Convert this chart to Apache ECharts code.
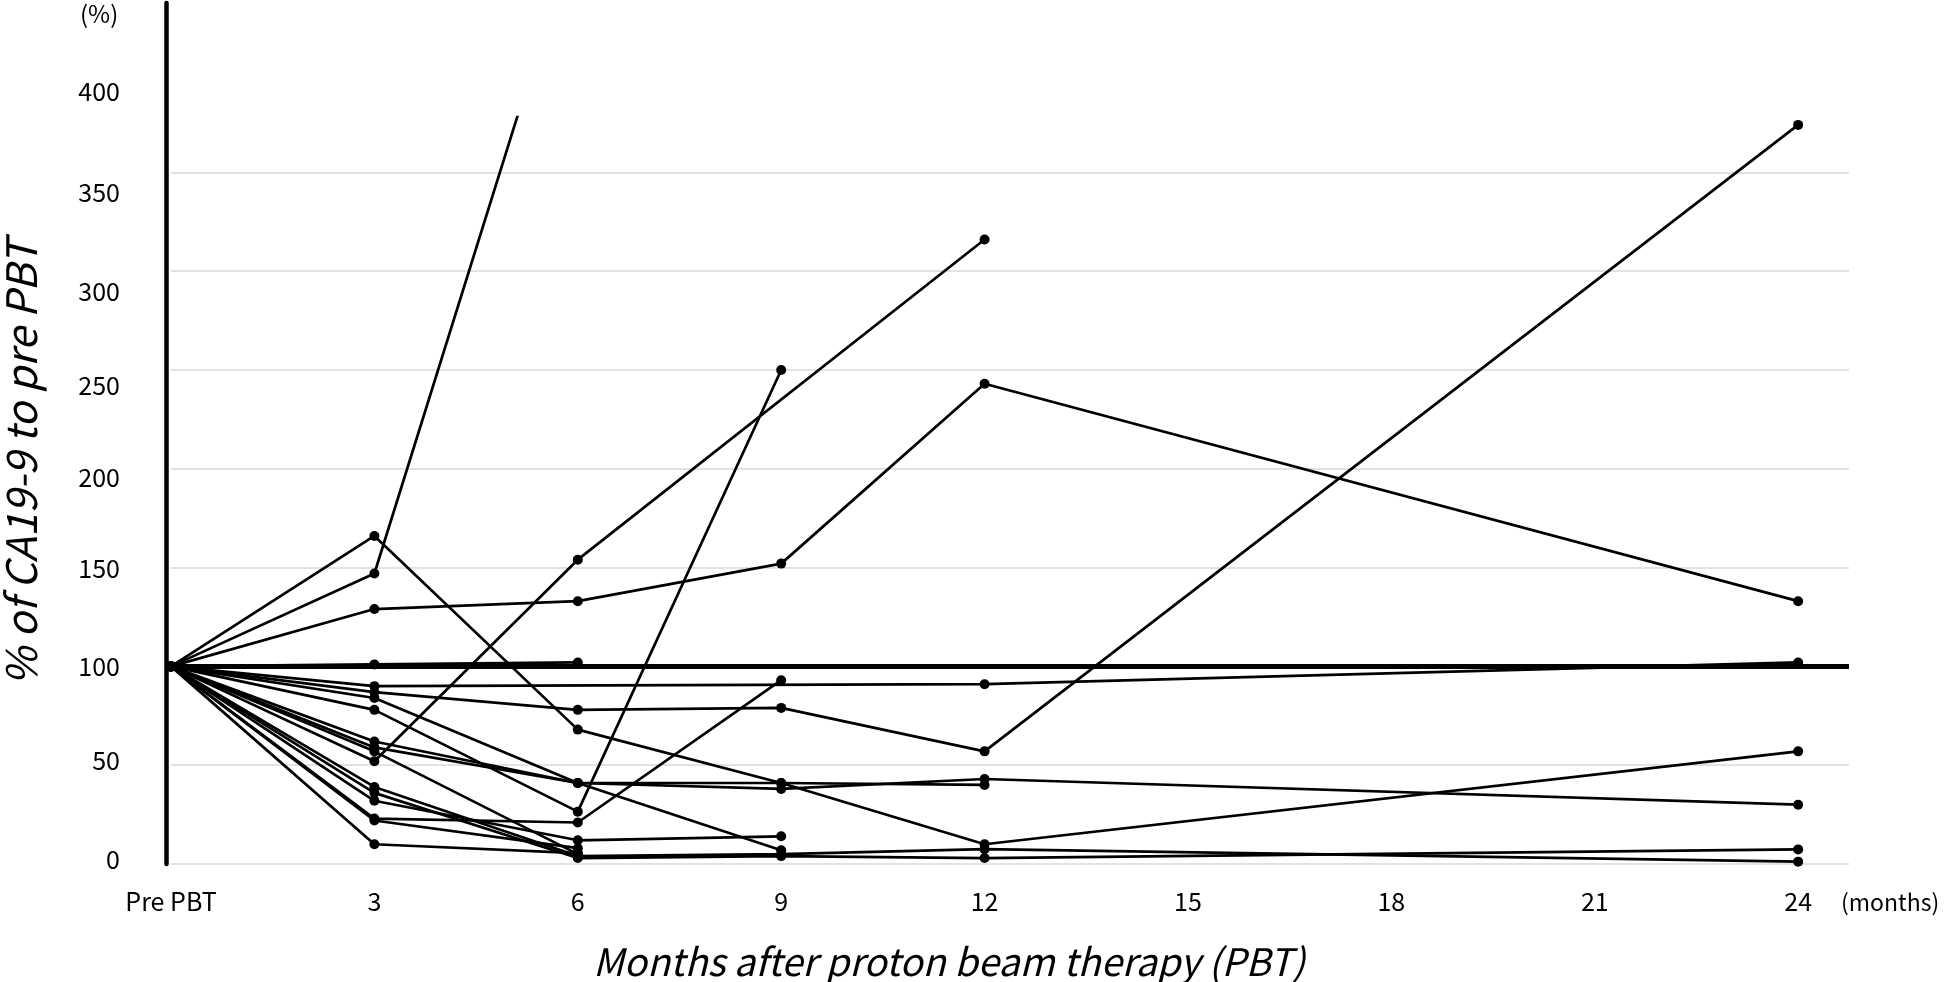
<!DOCTYPE html>
<html>
<head>
<meta charset="utf-8">
<script src="https://cdn.jsdelivr.net/npm/echarts@6/dist/echarts.min.js"></script>
<style>
html,body{margin:0;padding:0;background:#fff;}
#chart{width:1946px;height:982px;}
</style>
</head>
<body>
<div id="chart"></div>
<script>
// ---------- data ----------
const months = [0, 3, 6, 9, 12, 24];
const tickMonths = [0, 3, 6, 9, 12, 15, 18, 21, 24];
const tickLabels = ['Pre PBT', '3', '6', '9', '12', '15', '18', '21', '24'];
const yTicks = [0, 50, 100, 150, 200, 250, 300, 350, 400];

// % of CA19-9 relative to pre PBT, per patient (null = not measured)
const p01 = [100, 166, 68, 41, 10, 57];
const p02 = [100, 52, 154, null, 316, null];
const p03 = [100, 147, 476, null, null, null];
const p04 = [100, 129, 133, 152, 243, 133];
const p05 = [100, 78, 26.5, 250, null, null];
const p06 = [100, 101, 102, null, null, null];
const p07 = [100, 90, null, null, 91, 102];
const p08 = [100, 87, 78, 79, 57, 374];
const p09 = [100, 23, 21, 93, null, null];
const p10 = [100, 84, 41, 38, 43, 30];
const p11 = [100, 59, 41, 41, 40, null];
const p12 = [100, 62, 41, 7, null, null];
const p13 = [100, 32, 12, 14, null, null];
const p14 = [100, 39, 4, 5, 7.5, 1.2];
const p15 = [100, 36, 3, 4, 3, 7.4];
const p16 = [100, 57, 5, null, null, null];
const p17 = [100, 22, 8, null, null, null];
const p18 = [100, 10, 5.5, null, null, null];
const patients = [p01, p02, p03, p04, p05, p06, p07, p08, p09, p10, p11, p12, p13, p14, p15, p16, p17, p18];
const referenceLevel = 100;

// ---------- style ----------
const FONT = '"Noto Sans CJK JP", "Noto Sans", sans-serif';
const yLabelShift = {0: -5, 50: -5, 100: 0, 150: 1, 200: 9, 250: 16, 300: 20, 350: 20, 400: 17};
const rich = {};
yTicks.forEach(v => {
  const s = yLabelShift[v] || 0;
  rich['s' + v] = {
    fontSize: 25, color: '#000', fontFamily: FONT,
    padding: s >= 0 ? [2 * s, 0, 0, 0] : [0, 0, -2 * s, 0]
  };
});
function yLabel(v) {
  return yTicks.indexOf(v) >= 0 ? '{s' + v + '|' + v + '}' : '';
}

const gridCommon = {left: 171, right: 97, bottom: 118, containLabel: false};

const series = patients.map((arr, i) => {
  const data = [];
  arr.forEach((v, k) => { if (v !== null && v !== undefined) data.push([months[k], v]); });
  const s = {
    type: 'line', xAxisIndex: 0, yAxisIndex: 0, data: data,
    symbol: 'circle', symbolSize: 10, showSymbol: true,
    lineStyle: {color: '#000', width: 2.7},
    itemStyle: {color: '#000'},
    clip: true, silent: true, z: 3
  };
  if (i === 0) {
    s.markLine = {
      silent: true, symbol: ['none', 'none'], label: {show: false},
      lineStyle: {color: '#000', width: 5, type: 'solid'},
      data: [{yAxis: referenceLevel}]
    };
  }
  return s;
});

const option = {
  animation: false,
  backgroundColor: '#fff',
  grid: [
    Object.assign({top: 117}, gridCommon),
    Object.assign({top: 3}, gridCommon)
  ],
  xAxis: [
    {
      type: 'value', gridIndex: 0, min: 0, max: 24.75, interval: 3,
      axisLine: {show: false}, axisTick: {show: false}, splitLine: {show: false},
      axisLabel: {
        show: true, margin: 25, fontSize: 25, color: '#000', fontFamily: FONT,
        showMaxLabel: false,
        formatter: v => { const k = tickMonths.indexOf(v); return k >= 0 ? tickLabels[k] : ''; }
      }
    },
    {
      type: 'value', gridIndex: 1, min: 0, max: 24.75, show: false
    }
  ],
  yAxis: [
    {
      type: 'value', gridIndex: 0, min: 0, max: 378, interval: 50, offset: 5,
      axisLine: {show: false}, axisTick: {show: false},
      splitLine: {show: true, lineStyle: {color: ['#d9d9d9','#d9d9d9','#d9d9d9','#d9d9d9','#d9d9d9','#d9d9d9','#d9d9d9','#d9d9d9','rgba(0,0,0,0)'], width: 1.5}},
      axisLabel: {margin: 46, fontSize: 25, color: '#000', fontFamily: FONT, showMaxLabel: false, formatter: yLabel, rich: rich}
    },
    {
      type: 'value', gridIndex: 1, min: 0, max: 436, interval: 50, offset: 5,
      axisLine: {show: true, onZero: false, lineStyle: {color: '#000', width: 4.5}},
      axisTick: {show: false}, splitLine: {show: false},
      axisLabel: {margin: 46, fontSize: 25, color: '#000', fontFamily: FONT,
        formatter: v => (v === 400 ? yLabel(v) : ''), rich: rich}
    }
  ],
  graphic: [
    {type: 'text', left: 80, top: 2, style: {text: '(%)', fontSize: 24, fill: '#000', fontFamily: FONT}},
    {type: 'text', x: 21, y: 463, rotation: Math.PI / 2,
      style: {text: '% of CA19-9 to pre PBT', fontSize: 42, fontStyle: 'italic', fill: '#000', fontFamily: FONT,
        textAlign: 'center', textVerticalAlign: 'middle'}},
    {type: 'text', x: 949, y: 962,
      style: {text: 'Months after proton beam therapy (PBT)', fontSize: 38, fontStyle: 'italic', fill: '#000', fontFamily: FONT,
        textAlign: 'center', textVerticalAlign: 'middle'}},
    {type: 'text', x: 1841, y: 902,
      style: {text: '(months)', fontSize: 23, fill: '#000', fontFamily: FONT,
        textAlign: 'left', textVerticalAlign: 'middle'}}
  ],
  series: series
};

const chart = echarts.init(document.getElementById('chart'), null, {renderer: 'canvas'});
chart.setOption(option);
</script>
</body>
</html>
